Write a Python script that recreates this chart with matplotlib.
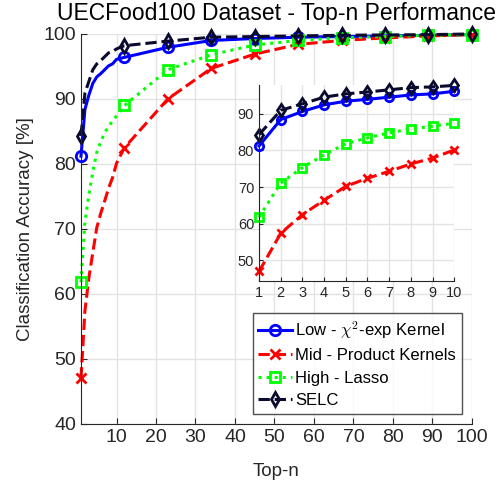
import numpy as np
import matplotlib
matplotlib.use("Agg")
import matplotlib.pyplot as plt

plt.rcParams['font.family'] = ['Liberation Sans', 'DejaVu Sans']
plt.rcParams['mathtext.fontset'] = 'cm'

# top-n values (1..10 from the zoomed panel, then every 11th n)
top_n = [1, 2, 3, 4, 5, 6, 7, 8, 9, 10, 12, 23, 34, 45, 56, 67, 78, 89, 100]
low_chi2 = [81.2, 88.4, 90.6, 92.4, 93.4, 93.9, 94.5, 95.1, 95.4, 96.1,
            96.4, 97.95, 99.0, 99.3, 99.5, 99.6, 99.7, 99.8, 99.9]
mid_prod = [47.0, 57.4, 62.5, 66.4, 70.2, 72.4, 74.3, 76.3, 77.9, 80.1,
            82.5, 90.0, 94.7, 96.9, 98.4, 99.0, 99.4, 99.7, 99.9]
high_lasso = [61.8, 71.1, 75.3, 78.8, 81.8, 83.4, 84.8, 85.8, 86.6, 87.4,
              89.0, 94.5, 96.8, 98.3, 99.0, 99.4, 99.6, 99.8, 99.9]
selc = [84.3, 90.9, 92.7, 94.5, 95.4, 95.9, 96.5, 97.1, 97.3, 97.7,
        98.2, 98.9, 99.5, 99.6, 99.7, 99.8, 99.85, 99.9, 100.0]

labels = [r'Low - $\chi^2$-exp Kernel', 'Mid - Product Kernels',
          'High - Lasso', 'SELC']
styles = [('#0000ff', '-', 'o'), ('#ff0000', '--', 'x'),
          ('#00ff00', ':', 's'), ('#0a0a2e', '--', 'd')]
series = [low_chi2, mid_prod, high_lasso, selc]

main_marks = [0, 10, 11, 12, 13, 14, 15, 16, 17, 18]
tick_col = '#262626'

fig = plt.figure(figsize=(5.03, 4.86), dpi=100)
ax = fig.add_axes([0.161, 0.1276, 0.777, 0.8025])

for vals, lab, (c, ls, m) in zip(series, labels, styles):
    ax.plot(top_n, vals, color=c, ls=ls, lw=2.2, marker=m, markevery=main_marks,
            ms=7.5, mew=2, mfc='none', label=lab, clip_on=False)

ax.set_xlim(1, 100)
ax.set_ylim(40, 100)
ax.set_xticks(np.arange(10, 101, 10))
ax.set_yticks(np.arange(40, 101, 10))
ax.grid(True, color='#e3e3e3', lw=1)
ax.set_axisbelow(True)
for s in ['top', 'right']:
    ax.spines[s].set_visible(False)
for s in ['left', 'bottom']:
    ax.spines[s].set_color(tick_col)
ax.tick_params(direction='in', labelsize=14, colors=tick_col, length=4)
ax.set_xlabel('Top-n', fontsize=13.5, color=tick_col, labelpad=12)
ax.set_ylabel('Classification Accuracy [%]', fontsize=13.5, color=tick_col,
              labelpad=7)
ax.set_title('UECFood100 Dataset - Top-n Performance', fontsize=16.5, pad=10)

leg = ax.legend(loc='lower right', bbox_to_anchor=(0.974, 0.026), fontsize=12,
                frameon=True, fancybox=False, edgecolor='#262626',
                handlelength=2.0, handletextpad=0.2, labelspacing=0.45,
                borderpad=0.35, borderaxespad=0)
leg.get_frame().set_linewidth(1)
leg.set_zorder(5)

# inset with the first ten ranks
ins = fig.add_axes([0.515, 0.4218, 0.388, 0.4032])
for vals, (c, ls, m) in zip(series, styles):
    ins.plot(top_n[:10], vals[:10], color=c, ls=ls, lw=2.2, marker=m,
             ms=6, mew=2, mfc='none', clip_on=False)
ins.set_xlim(1, 10)
ins.set_ylim(44.4, 97.8)
ins.set_xticks(np.arange(1, 11))
ins.set_yticks(np.arange(50, 91, 10))
ins.grid(True, color='#e3e3e3', lw=1)
ins.set_axisbelow(True)
for s in ['top', 'right']:
    ins.spines[s].set_visible(False)
for s in ['left', 'bottom']:
    ins.spines[s].set_color(tick_col)
ins.tick_params(direction='in', labelsize=10.5, colors=tick_col, length=3)

fig.savefig('out.png', dpi=100)
